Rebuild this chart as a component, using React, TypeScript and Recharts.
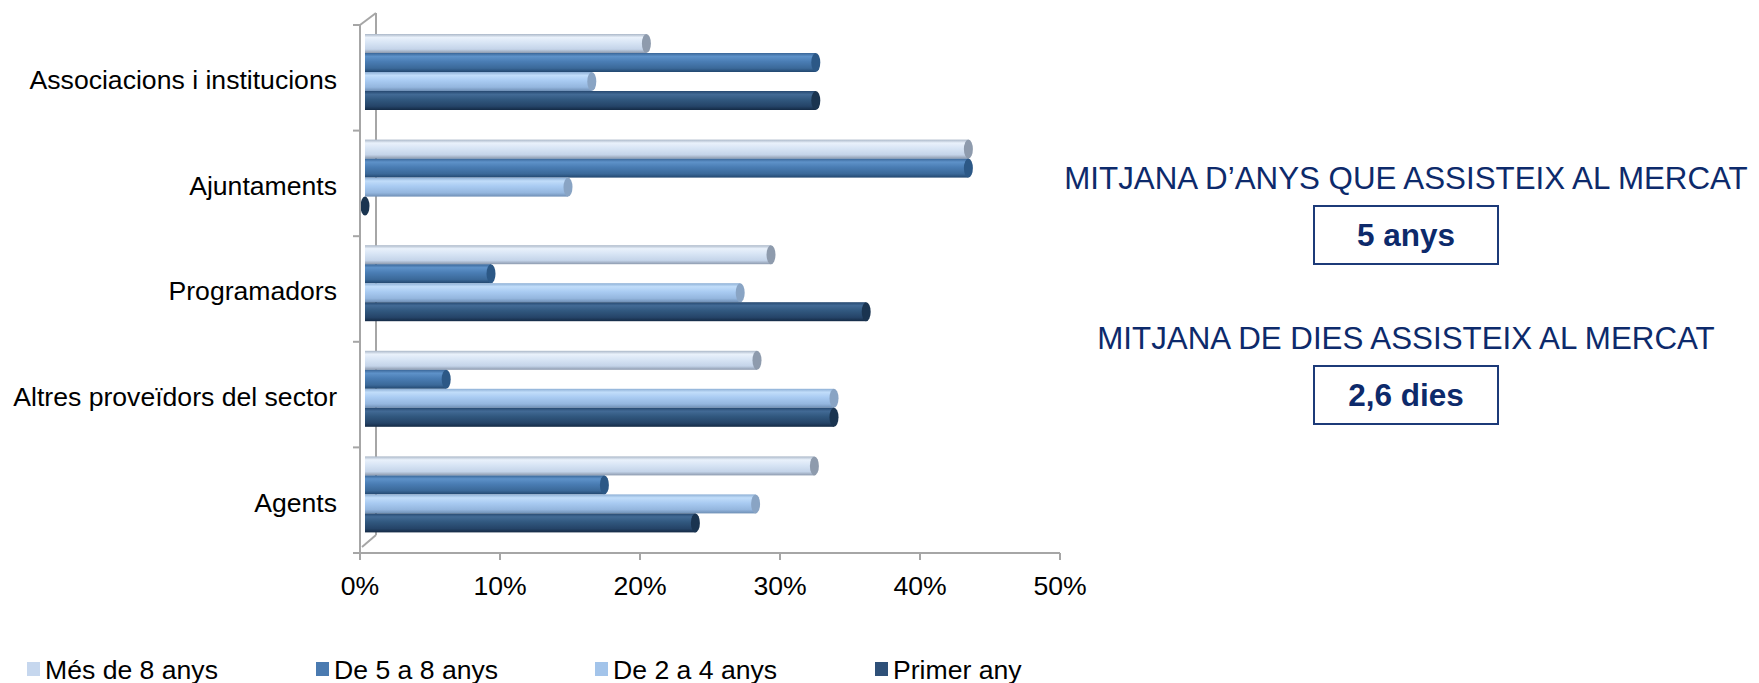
import React from 'react'
import { Bar, BarChart, Legend, ReferenceArea, XAxis, YAxis } from 'recharts'

const categories = [
  'Associacions i institucions',
  'Ajuntaments',
  'Programadors',
  'Altres proveïdors del sector',
  'Agents',
]
const mesDe8Anys = [20.1, 43.1, 29.0, 28.0, 32.1]
const de5a8Anys = [32.2, 43.1, 9.0, 5.8, 17.1]
const de2a4Anys = [16.2, 14.5, 26.8, 33.5, 27.9]
const primerAny = [32.2, 0, 35.8, 33.5, 23.6]
const xTicks = [0, 10, 20, 30, 40, 50]

const FONT = '"Liberation Sans", Arial, sans-serif'
const NAVY = '#0d2a6b'
const AXIS = '#a6a6a6'
// 3d depth offset of the bars relative to the front axis
const DEPTH_X = 5
const DEPTH_Y = 6

const series = [
  {
    key: 'mes8',
    name: 'Més de 8 anys',
    swatch: '#c6d7ee',
    cap: '#8e9bad',
    stops: ['#aab7c8', '#e9f1fb', '#d8e5f5', '#c4d4e9', '#8d9aae'],
  },
  {
    key: 'de5a8',
    name: 'De 5 a 8 anys',
    swatch: '#4a7ab0',
    cap: '#2c5886',
    stops: ['#3a6698', '#5e92c9', '#4a7db4', '#3b6999', '#22476f'],
  },
  {
    key: 'de2a4',
    name: 'De 2 a 4 anys',
    swatch: '#a3c4ea',
    cap: '#89a4c4',
    stops: ['#8dafd5', '#c1ddfa', '#a9cbf2', '#94b6de', '#6f8fb5'],
  },
  {
    key: 'primer',
    name: 'Primer any',
    swatch: '#2e5078',
    cap: '#1a3450',
    stops: ['#264870', '#426a95', '#31587f', '#254468', '#142a45'],
  },
]

const data = categories.map((name, i) => ({
  name,
  mes8: mesDe8Anys[i],
  de5a8: de5a8Anys[i],
  de2a4: de2a4Anys[i],
  primer: primerAny[i],
}))

const legendLeft = [27, 316, 595, 875]

const cylinder = (gradId: string, cap: string) => (props: any) => {
  const { x, y, width, height } = props
  if (x == null || y == null) return <g />
  const w = Math.max(width || 0, 0)
  const bx = x + DEPTH_X
  const by = y - DEPTH_Y
  return (
    <g>
      <rect x={bx} y={by} width={w} height={height} fill={`url(#${gradId})`} />
      <ellipse cx={bx + w} cy={by + height / 2} rx={4.5} ry={height / 2} fill={cap} />
    </g>
  )
}

// the 3d wall on the left side and category boundary ticks
const Wall = (props: any) => {
  const { x, y, height } = props
  if (x == null) return <g />
  const n = categories.length
  return (
    <g stroke={AXIS} strokeWidth={2} fill="none">
      <line x1={x} y1={y} x2={x + 16} y2={y - 12} />
      <line x1={x + 16} y1={y - 12} x2={x + 16} y2={y + height - 18} />
      <line x1={x + 2} y1={y + height - 6} x2={x + 16} y2={y + height - 18} />
      {Array.from({ length: n + 1 }, (_, i) => (
        <line key={i} x1={x - 7} y1={y + (i * height) / n} x2={x} y2={y + (i * height) / n} />
      ))}
    </g>
  )
}

const LegendContent = () => (
  <div style={{ position: 'relative', width: 1100, height: 40, fontFamily: FONT }}>
    {series.map((s, i) => (
      <div
        key={s.key}
        style={{
          position: 'absolute',
          left: legendLeft[i],
          top: 0,
          height: 40,
          display: 'flex',
          alignItems: 'center',
          fontSize: 26.6,
          color: '#000',
          whiteSpace: 'nowrap',
        }}
      >
        <span style={{ width: 13, height: 14, background: s.swatch, marginRight: 5, marginTop: -3 }} />
        {s.name}
      </div>
    ))}
  </div>
)

const Stat = ({ title, value, top }: { title: string; value: string; top: number }) => (
  <>
    <div
      style={{
        position: 'absolute',
        left: 1056,
        width: 700,
        top: top - 20,
        height: 40,
        lineHeight: '40px',
        textAlign: 'center',
        fontSize: 31.3,
        color: NAVY,
        whiteSpace: 'nowrap',
      }}
    >
      {title}
    </div>
    <div
      style={{
        position: 'absolute',
        left: 1313,
        top: top + 26,
        width: 186,
        height: 60,
        boxSizing: 'border-box',
        border: '2px solid #1c3a78',
        display: 'flex',
        alignItems: 'center',
        justifyContent: 'center',
        fontSize: 31.5,
        fontWeight: 700,
        color: NAVY,
      }}
    >
      {value}
    </div>
  </>
)

export default function App() {
  return (
    <div
      style={{
        position: 'absolute',
        left: 0,
        top: 0,
        width: 1759,
        height: 683,
        background: '#fff',
        fontFamily: FONT,
      }}
    >
      <BarChart
        width={1100}
        height={683}
        data={data}
        layout="vertical"
        barSize={19}
        barGap={0}
        margin={{ top: 25, right: 40, bottom: 40, left: 0 }}
      >
        <defs>
          {series.map((s) => (
            <linearGradient key={s.key} id={`g-${s.key}`} x1="0" y1="0" x2="0" y2="1">
              <stop offset="0%" stopColor={s.stops[0]} />
              <stop offset="18%" stopColor={s.stops[1]} />
              <stop offset="45%" stopColor={s.stops[2]} />
              <stop offset="80%" stopColor={s.stops[3]} />
              <stop offset="100%" stopColor={s.stops[4]} />
            </linearGradient>
          ))}
        </defs>
        <XAxis
          type="number"
          domain={[0, 50]}
          ticks={xTicks}
          tickFormatter={(v) => `${v}%`}
          height={50}
          axisLine={{ stroke: AXIS, strokeWidth: 2 }}
          tickLine={{ stroke: AXIS, strokeWidth: 2 }}
          tickSize={7}
          tickMargin={16}
          tick={{ fontSize: 26.6, fill: '#000', fontFamily: FONT }}
        />
        <YAxis
          type="category"
          dataKey="name"
          width={360}
          axisLine={{ stroke: AXIS, strokeWidth: 2 }}
          tickLine={false}
          tickSize={6}
          tickMargin={17}
          tick={{ fontSize: 26.6, fill: '#000', fontFamily: FONT, dy: 2 }}
        />
        <ReferenceArea x1={0} x2={50} ifOverflow="visible" shape={<Wall />} />
        {series.map((s) => (
          <Bar
            key={s.key}
            dataKey={s.key}
            name={s.name}
            fill={s.swatch}
            isAnimationActive={false}
            shape={cylinder(`g-${s.key}`, s.cap)}
          />
        ))}
        <Legend
          verticalAlign="bottom"
          height={40}
          content={<LegendContent />}
          wrapperStyle={{ top: 650, left: 0 }}
        />
      </BarChart>
      <Stat title="MITJANA D’ANYS QUE ASSISTEIX AL MERCAT" value="5 anys" top={179} />
      <Stat title="MITJANA DE DIES ASSISTEIX AL MERCAT" value="2,6 dies" top={339} />
    </div>
  )
}
